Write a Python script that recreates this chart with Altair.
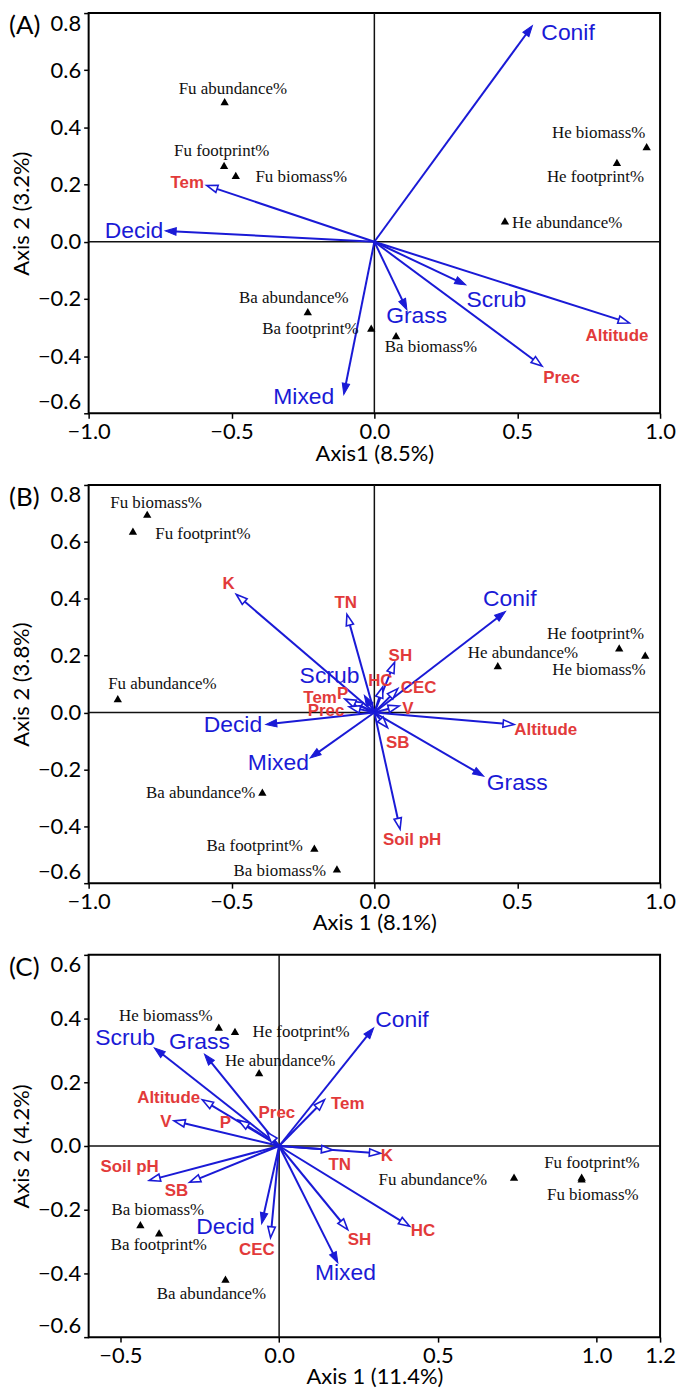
import math
import altair as alt
import pandas as pd

BLUE = "#1a1ad6"
RED = "#e23a3a"
AXFONT = "Lato"

# ---------------- Panel A ----------------
A_arrow_names = ["Conif", "Decid", "Mixed", "Grass", "Scrub", "Tem", "Altitude", "Prec"]
A_arrow_kind = ["veg", "veg", "veg", "veg", "veg", "env", "env", "env"]
A_arrow_x = [0.553, -0.732, -0.107, 0.114, 0.320, -0.587, 0.892, 0.587]
A_arrow_y = [0.756, 0.038, -0.534, -0.238, -0.151, 0.197, -0.284, -0.435]
A_arrow_lx = [0.678, -0.841, -0.247, 0.148, 0.427, -0.655, 0.849, 0.655]
A_arrow_ly = [0.731, 0.038, -0.543, -0.261, -0.203, 0.205, -0.331, -0.478]
A_pt_names = ["Fu abundance%", "Fu footprint%", "Fu biomass%", "He biomass%", "He footprint%",
              "He abundance%", "Ba abundance%", "Ba footprint%", "Ba biomass%"]
A_pt_x = [-0.524, -0.526, -0.485, 0.953, 0.849, 0.457, -0.233, -0.011, 0.076]
A_pt_y = [0.490, 0.267, 0.232, 0.333, 0.278, 0.073, -0.244, -0.302, -0.328]
A_pt_lx = [-0.495, -0.534, -0.256, 0.785, 0.774, 0.675, -0.282, -0.224, 0.198]
A_pt_ly = [0.534, 0.319, 0.226, 0.379, 0.226, 0.064, -0.197, -0.304, -0.368]

# ---------------- Panel B ----------------
B_arrow_names = ["K", "TN", "Conif", "SH", "HC", "CEC", "V", "Scrub", "P", "Tem", "Prec",
                 "Decid", "Mixed", "SB", "Altitude", "Grass", "Soil pH"]
B_arrow_kind = ["env", "env", "veg", "env", "env", "env", "env", "veg", "env", "env", "env",
                "veg", "veg", "env", "env", "veg", "env"]
B_arrow_x = [-0.483, -0.096, 0.459, 0.071, 0.029, 0.082, 0.087, -0.035, -0.080, -0.103, -0.088,
             -0.380, -0.225, 0.046, 0.489, 0.383, 0.090]
B_arrow_y = [0.415, 0.345, 0.355, 0.177, 0.090, 0.084, 0.023, 0.060, 0.040, 0.047, 0.020,
             -0.042, -0.160, -0.053, -0.042, -0.224, -0.410]
B_arrow_lx = [-0.510, -0.100, 0.474, 0.091, 0.021, 0.155, 0.117, -0.157, -0.111, -0.190, -0.169,
              -0.495, -0.336, 0.082, 0.600, 0.500, 0.132]
B_arrow_ly = [0.452, 0.386, 0.398, 0.200, 0.110, 0.087, 0.014, 0.127, 0.066, 0.052, 0.005,
              -0.044, -0.176, -0.108, -0.062, -0.248, -0.449]
B_pt_names = ["Fu biomass%", "Fu footprint%", "Fu abundance%", "He footprint%", "He biomass%",
              "He abundance%", "Ba abundance%", "Ba footprint%", "Ba biomass%"]
B_pt_x = [-0.795, -0.845, -0.898, 0.857, 0.948, 0.432, -0.392, -0.210, -0.131]
B_pt_y = [0.697, 0.638, 0.049, 0.227, 0.202, 0.165, -0.280, -0.477, -0.550]
B_pt_lx = [-0.764, -0.600, -0.742, 0.774, 0.786, 0.520, -0.608, -0.419, -0.331]
B_pt_ly = [0.735, 0.628, 0.101, 0.276, 0.148, 0.209, -0.283, -0.471, -0.556]

# ---------------- Panel C ----------------
C_arrow_names = ["Conif", "Scrub", "Grass", "Altitude", "V", "P", "Prec", "Tem", "TN", "K",
                 "Soil pH", "SB", "Decid", "CEC", "SH", "HC", "Mixed"]
C_arrow_kind = ["veg", "veg", "veg", "env", "env", "env", "env", "env", "env", "env",
                "env", "env", "veg", "env", "env", "env", "veg"]
C_arrow_x = [0.298, -0.393, -0.235, -0.242, -0.331, -0.128, -0.038, 0.143, 0.168, 0.319,
             -0.409, -0.282, -0.055, -0.027, 0.216, 0.411, 0.185]
C_arrow_y = [0.371, 0.308, 0.288, 0.145, 0.079, 0.081, 0.043, 0.145, -0.0125, -0.023,
             -0.108, -0.114, -0.244, -0.288, -0.2625, -0.252, -0.367]
C_arrow_lx = [0.387, -0.485, -0.251, -0.348, -0.357, -0.169, -0.007, 0.216, 0.191, 0.339,
              -0.471, -0.323, -0.169, -0.070, 0.253, 0.453, 0.209]
C_arrow_ly = [0.394, 0.340, 0.327, 0.150, 0.074, 0.071, 0.105, 0.133, -0.059, -0.033,
              -0.065, -0.142, -0.254, -0.327, -0.294, -0.268, -0.398]
C_pt_names = ["He biomass%", "He footprint%", "He abundance%", "Fu abundance%", "Fu footprint%",
              "Fu biomass%", "Ba biomass%", "Ba footprint%", "Ba abundance%"]
C_pt_x = [-0.190, -0.139, -0.063, 0.740, 0.953, 0.953, -0.437, -0.378, -0.169]
C_pt_y = [0.373, 0.360, 0.230, -0.098, -0.098, -0.103, -0.247, -0.273, -0.418]
C_pt_lx = [-0.357, 0.069, 0.003, 0.484, 0.985, 0.988, -0.382, -0.379, -0.213]
C_pt_ly = [0.409, 0.357, 0.267, -0.106, -0.054, -0.155, -0.202, -0.311, -0.465]

HEAD = "M0,0L-0.34,1L0.34,1Z"


def panel(letter, names, kind, ax, ay, alx, aly, pn, px, py, plx, ply,
          xdom, ydom, xticks, yticks, xtitle, ytitle, W, H):
    sx = W / (xdom[1] - xdom[0])
    sy = H / (ydom[1] - ydom[0])
    rows = []
    for n, k, x, y, tx, ty in zip(names, kind, ax, ay, alx, aly):
        dxp, dyp = x * sx, y * sy
        L = math.hypot(dxp, dyp)
        ang = (math.degrees(math.atan2(dxp, dyp)) + 360) % 360
        cut = min(6.0, L * 0.4)
        rows.append(dict(name=n, kind=k, x=x, y=y,
                         ex=x - dxp / L * cut / sx, ey=y - dyp / L * cut / sy,
                         ox=0.0, oy=0.0, lx=tx, ly=ty, ang=ang))
    arrows = pd.DataFrame(rows)
    pts = pd.DataFrame(dict(name=pn, x=px, y=py, lx=plx, ly=ply))
    zero = pd.DataFrame(dict(z=[0.0]))
    lab = pd.DataFrame(dict(t=[letter]))

    xaxis = alt.Axis(values=xticks, format=".1f", title=xtitle, grid=False, domain=False,
                     labelFlush=False, tickColor="black", tickSize=5, tickWidth=1.5,
                     labelFont=AXFONT, labelFontSize=22, labelColor="black", labelPadding=3,
                     titleFont=AXFONT, titleFontSize=22, titleFontWeight="normal",
                     titleColor="black", titlePadding=1)
    yaxis = alt.Axis(values=yticks, format=".1f", title=ytitle, grid=False, domain=False,
                     labelFlush=True, tickColor="black", tickSize=5, tickWidth=1.5,
                     labelFont=AXFONT, labelFontSize=22, labelColor="black", labelPadding=3,
                     titleFont=AXFONT, titleFontSize=22, titleFontWeight="normal",
                     titleColor="black", titlePadding=4)
    xs = alt.Scale(domain=xdom, nice=False, zero=False)
    ys = alt.Scale(domain=ydom, nice=False, zero=False)

    def X(f):
        return alt.X(f, type="quantitative", scale=xs, axis=xaxis)

    def Y(f):
        return alt.Y(f, type="quantitative", scale=ys, axis=yaxis)

    vline = alt.Chart(zero).mark_rule(color="#111", strokeWidth=1.5).encode(x=X("z"))
    hline = alt.Chart(zero).mark_rule(color="#111", strokeWidth=1.5).encode(y=Y("z"))
    lines = alt.Chart(arrows).mark_rule(color=BLUE, strokeWidth=2).encode(
        x=X("ox"), y=Y("oy"), x2=alt.X2("ex"), y2=alt.Y2("ey"))
    heads_f = alt.Chart(arrows).transform_filter(alt.datum.kind == "veg").mark_point(
        shape=HEAD, filled=True, fill=BLUE, stroke=BLUE, strokeWidth=1, size=484, opacity=1
    ).encode(x=X("x"), y=Y("y"), angle=alt.Angle("ang:Q", scale=None))
    heads_o = alt.Chart(arrows).transform_filter(alt.datum.kind == "env").mark_point(
        shape=HEAD, filled=True, fill="white", stroke=BLUE, strokeWidth=1.6, size=484, opacity=1
    ).encode(x=X("x"), y=Y("y"), angle=alt.Angle("ang:Q", scale=None))
    tri = alt.Chart(pts).mark_point(shape="triangle-up", filled=True, color="black",
                                    size=70, opacity=1).encode(x=X("x"), y=Y("y"))
    ptxt = alt.Chart(pts).mark_text(font="Liberation Serif", fontSize=17, color="#111",
                                    baseline="middle").encode(x=X("lx"), y=Y("ly"), text="name:N")
    vtxt = alt.Chart(arrows).transform_filter(alt.datum.kind == "veg").mark_text(
        font="Liberation Sans", fontSize=23, color=BLUE, baseline="middle"
    ).encode(x=X("lx"), y=Y("ly"), text="name:N")
    etxt = alt.Chart(arrows).transform_filter(alt.datum.kind == "env").mark_text(
        font="Liberation Sans", fontSize=17, fontWeight="bold", color=RED, baseline="middle"
    ).encode(x=X("lx"), y=Y("ly"), text="name:N")
    letter_t = alt.Chart(lab).mark_text(font=AXFONT, fontSize=26, color="black", align="left",
                                        baseline="middle").encode(
        x=alt.value(-80), y=alt.value(13), text="t:N")
    return alt.layer(vline, hline, lines, heads_o, heads_f, tri, ptxt, vtxt, etxt,
                     letter_t).properties(width=W, height=H)


W = 574
pA = panel("(A)", A_arrow_names, A_arrow_kind, A_arrow_x, A_arrow_y, A_arrow_lx, A_arrow_ly,
           A_pt_names, A_pt_x, A_pt_y, A_pt_lx, A_pt_ly,
           [-1.0, 1.0], [-0.6, 0.8], [-1.0, -0.5, 0.0, 0.5, 1.0],
           [-0.6, -0.4, -0.2, 0.0, 0.2, 0.4, 0.6, 0.8], "Axis1 (8.5%)", "Axis 2 (3.2%)", W, 402)
pB = panel("(B)", B_arrow_names, B_arrow_kind, B_arrow_x, B_arrow_y, B_arrow_lx, B_arrow_ly,
           B_pt_names, B_pt_x, B_pt_y, B_pt_lx, B_pt_ly,
           [-1.0, 1.0], [-0.6, 0.8], [-1.0, -0.5, 0.0, 0.5, 1.0],
           [-0.6, -0.4, -0.2, 0.0, 0.2, 0.4, 0.6, 0.8], "Axis 1 (8.1%)", "Axis 2 (3.8%)", W, 400)
pC = panel("(C)", C_arrow_names, C_arrow_kind, C_arrow_x, C_arrow_y, C_arrow_lx, C_arrow_ly,
           C_pt_names, C_pt_x, C_pt_y, C_pt_lx, C_pt_ly,
           [-0.6, 1.2], [-0.6, 0.6], [-0.5, 0.0, 0.5, 1.0, 1.2],
           [-0.6, -0.4, -0.2, 0.0, 0.2, 0.4, 0.6], "Axis 1 (11.4%)", "Axis 2 (4.2%)", W, 384)

chart = alt.vconcat(pA, pB, pC, spacing=18).properties(
    padding={"left": 0, "top": 0, "right": 0, "bottom": 0}
).configure_view(stroke="black", strokeWidth=2)

chart.save("out.html", embed_options={"renderer": "svg", "actions": False})
